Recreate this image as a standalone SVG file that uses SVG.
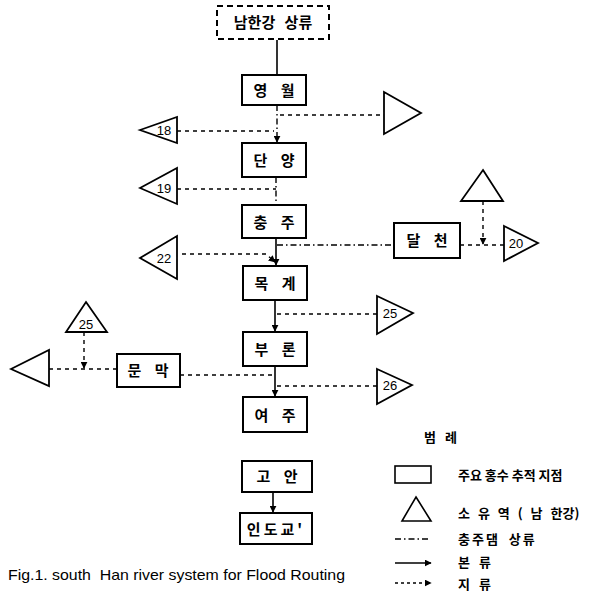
<svg xmlns="http://www.w3.org/2000/svg" width="597" height="597" viewBox="0 0 597 597">
  <style>
    .box { fill: #fff; stroke: #000; stroke-width: 2; }
    .tri { fill: #fff; stroke: #000; stroke-width: 1.8; stroke-linejoin: miter; }
    .lbl { font-family: "Noto Sans CJK KR", "Noto Sans", sans-serif; font-size: 15px; font-weight: bold; text-anchor: middle; fill: #000; word-spacing: 10px; }
    .num { font-family: "Liberation Sans", sans-serif; font-size: 13px; text-anchor: middle; fill: #000; }
    .leg { font-family: "Noto Sans CJK KR", "Noto Sans", sans-serif; font-size: 13px; font-weight: bold; fill: #000; }
    .main { stroke: #000; stroke-width: 1.6; fill: none; }
    .dam { stroke: #000; stroke-width: 1.4; fill: none; stroke-dasharray: 6 3 1.5 3; }
    .trib { stroke: #000; stroke-width: 1.4; fill: none; stroke-dasharray: 4 4; }
    .cap { font-family: "Liberation Sans", sans-serif; font-size: 15px; fill: #000; white-space: pre; }
  </style>
  <defs>
    <marker id="arr" viewBox="0 0 10 10" refX="9" refY="5" markerWidth="7" markerHeight="7" orient="auto" markerUnits="userSpaceOnUse">
      <path d="M0,0 L10,5 L0,10 z" fill="#000"/>
    </marker>
  </defs>

  <!-- connectors -->
  <g id="connectors">
    <!-- main stem -->
    <line class="main" x1="277" y1="40" x2="277" y2="75"/>
    <line class="dam" x1="277" y1="105" x2="277" y2="142" marker-end="url(#arr)"/>
    <line class="dam" x1="276" y1="177" x2="276" y2="205"/>
    <line class="main" x1="276" y1="238" x2="276" y2="265" marker-end="url(#arr)"/>
    <line class="main" x1="275" y1="300" x2="275" y2="331" marker-end="url(#arr)"/>
    <line class="main" x1="275" y1="366" x2="275" y2="396" marker-end="url(#arr)"/>
    <line class="main" x1="273" y1="492" x2="273" y2="512" marker-end="url(#arr)"/>

    <!-- tributaries -->
    <line class="trib" x1="280" y1="115" x2="384" y2="115"/>
    <line class="trib" x1="177" y1="131" x2="274" y2="131"/>
    <line class="trib" x1="177" y1="189" x2="276" y2="189"/>
    <polyline class="trib" points="182,254 266,254 275,262" marker-end="url(#arr)"/>
    <line class="dam" x1="277" y1="245" x2="394" y2="245"/>
    <line class="trib" x1="460" y1="245" x2="504" y2="245"/>
    <line class="trib" x1="483" y1="201" x2="483" y2="244" marker-end="url(#arr)"/>
    <line class="trib" x1="277" y1="314" x2="377" y2="314"/>
    <line class="trib" x1="277" y1="386" x2="377" y2="386"/>
    <line class="trib" x1="180" y1="375" x2="275" y2="375"/>
    <line class="trib" x1="49" y1="369" x2="117" y2="369"/>
    <line class="trib" x1="84" y1="332" x2="84" y2="368" marker-end="url(#arr)"/>
  </g>

  <!-- main gauging points -->
  <g id="n-upper">
    <rect class="box" x="217" y="6" width="112" height="33" style="stroke-dasharray:6 4"/>
    <text class="lbl" x="273" y="28" style="word-spacing:6px">남한강 상류</text>
  </g>
  <g id="n-yeongwol">
    <rect class="box" x="242" y="75" width="64" height="30"/>
    <text class="lbl" x="274" y="96">영 월</text>
  </g>
  <g id="n-danyang">
    <rect class="box" x="242" y="143" width="64" height="34"/>
    <text class="lbl" x="274" y="166">단 양</text>
  </g>
  <g id="n-chungju">
    <rect class="box" x="242" y="205" width="64" height="33"/>
    <text class="lbl" x="274" y="228">충 주</text>
  </g>
  <g id="n-mokgye">
    <rect class="box" x="243" y="266" width="64" height="34"/>
    <text class="lbl" x="275" y="289">목 계</text>
  </g>
  <g id="n-buron">
    <rect class="box" x="243" y="332" width="64" height="34"/>
    <text class="lbl" x="275" y="355">부 론</text>
  </g>
  <g id="n-yeoju">
    <rect class="box" x="243" y="397" width="64" height="35"/>
    <text class="lbl" x="275" y="421">여 주</text>
  </g>
  <g id="n-goan">
    <rect class="box" x="242" y="461" width="70" height="31"/>
    <text class="lbl" x="277" y="482">고 안</text>
  </g>
  <g id="n-indogyo">
    <rect class="box" x="240" y="513" width="72" height="31"/>
    <text class="lbl" x="276" y="535" style="letter-spacing:3px">인도교'</text>
  </g>
  <g id="n-dalcheon">
    <rect class="box" x="394" y="223" width="66" height="35"/>
    <text class="lbl" x="427" y="246">달 천</text>
  </g>
  <g id="n-munmak">
    <rect class="box" x="117" y="354" width="63" height="33"/>
    <text class="lbl" x="148" y="376">문 막</text>
  </g>

  <!-- sub-basins -->
  <g id="t-east">
    <polygon class="tri" points="384,92 421,113 384,134"/>
  </g>
  <g id="t-18">
    <polygon class="tri" points="140,130 177,117 177,143"/>
    <text class="num" x="164" y="135">18</text>
  </g>
  <g id="t-19">
    <polygon class="tri" points="140,188 177,168 177,204"/>
    <text class="num" x="164" y="193">19</text>
  </g>
  <g id="t-22">
    <polygon class="tri" points="140,258 177,236 177,279"/>
    <text class="num" x="164" y="263">22</text>
  </g>
  <g id="t-up20">
    <polygon class="tri" points="483,170 503,201 461,201"/>
  </g>
  <g id="t-20">
    <polygon class="tri" points="504,226 538,243 504,261"/>
    <text class="num" x="516" y="248">20</text>
  </g>
  <g id="t-25r">
    <polygon class="tri" points="377,296 413,313 377,334"/>
    <text class="num" x="390" y="318">25</text>
  </g>
  <g id="t-26">
    <polygon class="tri" points="377,369 412,385 377,404"/>
    <text class="num" x="390" y="390">26</text>
  </g>
  <g id="t-25u">
    <polygon class="tri" points="86,302 107,332 66,332"/>
    <text class="num" x="86" y="329">25</text>
  </g>
  <g id="t-west">
    <polygon class="tri" points="11,369 49,350 49,386"/>
  </g>

  <!-- legend -->
  <g id="legend">
    <text class="leg" x="424" y="442" style="word-spacing:6px">범 례</text>
    <rect x="395" y="466" width="36" height="17" fill="none" stroke="#000" stroke-width="1.6"/>
    <text class="leg" x="458" y="480">주요 홍수 추적 지점</text>
    <polygon points="416,497 431,521 402,521" fill="none" stroke="#000" stroke-width="1.6"/>
    <text class="leg" x="458" y="518" style="word-spacing:5px">소 유 역 ( 남 한강)</text>
    <line class="dam" x1="395" y1="539" x2="431" y2="539"/>
    <text class="leg" x="458" y="544" style="letter-spacing:2px;word-spacing:4px">충주댐 상류</text>
    <line class="main" x1="395" y1="563" x2="431" y2="563" marker-end="url(#arr)"/>
    <text class="leg" x="458" y="567" style="word-spacing:6px">본 류</text>
    <line class="trib" x1="395" y1="583" x2="431" y2="583" style="stroke-dasharray:3 3" marker-end="url(#arr)"/>
    <text class="leg" x="458" y="589" style="word-spacing:6px">지 류</text>
  </g>

  <text class="cap" x="8" y="580" textLength="337" lengthAdjust="spacingAndGlyphs">Fig.1. south  Han river system for Flood Routing</text>
</svg>
